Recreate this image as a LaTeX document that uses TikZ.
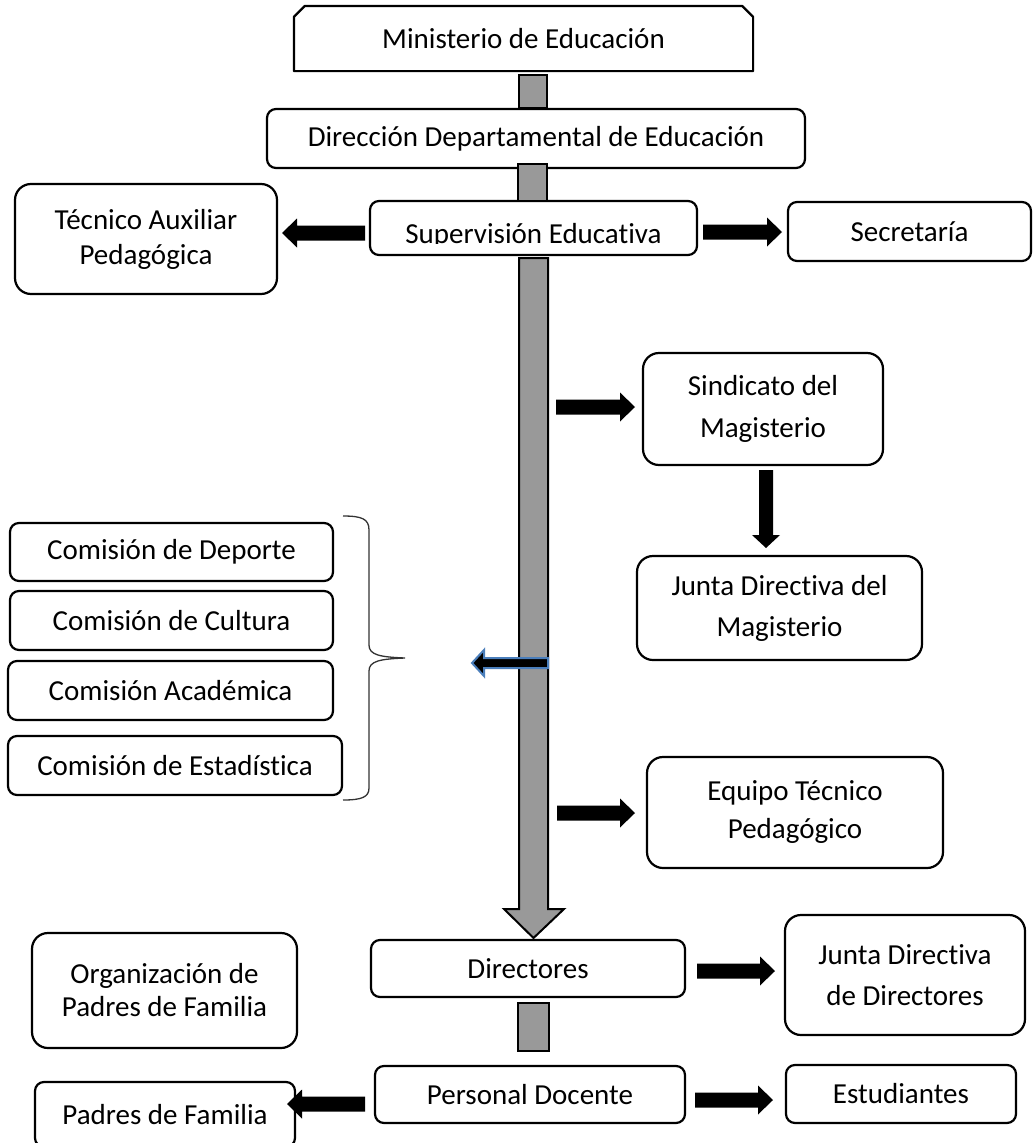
\documentclass[tikz,border=0pt]{standalone}
\usepackage{fontspec}
\setmainfont{Carlito}[Ligatures=NoCommon]
\usetikzlibrary{calc}
\definecolor{arrowblue}{RGB}{74,126,187}
\tikzset{
  box/.style={draw=black, line width=2.2pt, rounded corners=9pt, align=center, inner sep=0pt,
              font=\fontsize{29}{40}\selectfont, text=black},
  bigbox/.style={box, rounded corners=16pt},
  barstyle/.style={fill=black!40, draw=black, line width=2pt},
  bracestyle/.style={draw=black!80, line width=1.3pt},
}
\newcommand\rarr[2]{\fill[black] let \p1=(#1),\p2=(#2) in
  (\x1,\y1+7.5pt) -- (\x2-15pt,\y1+7.5pt) -- (\x2-15pt,\y1+14.5pt) -- (\x2,\y1)
  -- (\x2-15pt,\y1-14.5pt) -- (\x2-15pt,\y1-7.5pt) -- (\x1,\y1-7.5pt) -- cycle;}
\newcommand\larr[2]{\fill[black] let \p1=(#1),\p2=(#2) in
  (\x1,\y1+7.5pt) -- (\x2+15pt,\y1+7.5pt) -- (\x2+15pt,\y1+14.5pt) -- (\x2,\y1)
  -- (\x2+15pt,\y1-14.5pt) -- (\x2+15pt,\y1-7.5pt) -- (\x1,\y1-7.5pt) -- cycle;}
\newcommand\darr[2]{\fill[black] let \p1=(#1),\p2=(#2) in
  (\x1-7pt,\y1) -- (\x1-7pt,\y2+13pt) -- (\x1-14pt,\y2+13pt) -- (\x1,\y2)
  -- (\x1+14pt,\y2+13pt) -- (\x1+7pt,\y2+13pt) -- (\x1+7pt,\y1) -- cycle;}
\begin{document}
\begin{tikzpicture}[x=1pt,y=-1pt]
\useasboundingbox (0,0) rectangle (1034,1143);
\fill[white] (0,0) rectangle (1034,1143);

% ---- boxes ----
\node[box, draw=none, minimum width=457pt, minimum height=63pt] (min) at (523.5,38.5) {Ministerio de Educación};
\draw[line width=2.2pt, line join=round] (min.south west) -- ($(min.north west)+(0,11)$) -- ($(min.north west)+(11,0)$)
  -- ($(min.north east)+(-11,0)$) -- ($(min.north east)+(0,11)$) -- (min.south east) -- cycle;
\node[box, minimum width=538pt, minimum height=59pt] (dir) at (536,138.5) {Dirección Departamental de Educación};
\node[box, minimum width=327pt, minimum height=54pt] (sup) at (533.5,228) {};
\begin{scope}
  \clip (372,203) rectangle (695,243);
  \node[font=\fontsize{29}{40}\selectfont, inner sep=0pt, anchor=base] (suptext) at (533.5,243) {Supervisión Educativa};
\end{scope}
\node[bigbox, minimum width=262pt, minimum height=110pt, font=\fontsize{29}{35}\selectfont] (tec) at (146,239) {Técnico Auxiliar\\Pedagógica};
\node[box, minimum width=243pt, minimum height=59pt] (sec) at (909.5,231.5) {Secretaría};
\node[bigbox, minimum width=240pt, minimum height=112pt, font=\fontsize{29}{42}\selectfont] (sin) at (763,409) {Sindicato del\\Magisterio};
\node[bigbox, minimum width=285pt, minimum height=104pt, font=\fontsize{29}{41}\selectfont] (jdm) at (779.5,608) {Junta Directiva del\\Magisterio};
\node[bigbox, minimum width=296pt, minimum height=111pt, font=\fontsize{29}{38}\selectfont] (equ) at (795,812.5) {Equipo Técnico\\Pedagógico};
\node[box, minimum width=314pt, minimum height=57pt] (dirs) at (528,968.5) {Directores};
\node[bigbox, minimum width=240pt, minimum height=120pt, font=\fontsize{29}{41}\selectfont] (jdd) at (905,975) {Junta Directiva\\de Directores};
\node[bigbox, minimum width=265pt, minimum height=115pt, font=\fontsize{29}{33}\selectfont] (org) at (164.5,990.5) {Organización de\\Padres de Familia};
\node[box, minimum width=310pt, minimum height=57pt] (pd) at (530,1094.5) {Personal Docente};
\node[box, minimum width=260pt, minimum height=65pt] (pad) at (165,1114.5) {Padres de Familia};
\node[box, minimum width=230pt, minimum height=58pt] (est) at (901,1094) {Estudiantes};

\node[box, minimum width=323pt, minimum height=58pt] (c1) at (171.5,552) {Comisión de Deporte};
\node[box, minimum width=323pt, minimum height=59pt] (c2) at (171.5,620.5) {Comisión de Cultura};
\node[box, minimum width=325pt, minimum height=59pt] (c3) at (170.5,690.5) {Comisión Académica};
\node[box, minimum width=334pt, minimum height=59pt] (c4) at (175,765.5) {Comisión de Estadística};

% ---- brace ----
\draw[bracestyle] (343,516) .. controls (362,516) and (369,519) .. (369,530) -- (369,645)
  .. controls (369,655) and (380,657) .. (405,658)
  .. controls (380,659) and (369,661) .. (369,671) -- (369,788)
  .. controls (369,797) and (362,800) .. (343,800);

% ---- gray connectors ----
\draw[barstyle] (519,75) rectangle (547,108);
\draw[barstyle] (518,164) rectangle (547,201);
\draw[barstyle] (518,1003) rectangle (549,1051);
\coordinate (bigtop) at (533.5,258);
\coordinate (bigtip) at (533.5,938);
\draw[barstyle, line join=miter] let \p1=(bigtop),\p2=(bigtip) in
  (\x1-14.5pt,\y1) -- (\x1-14.5pt,\y2+29pt) -- (\x1-29.5pt,\y2+29pt) -- (\x2,\y2)
  -- (\x1+30.5pt,\y2+29pt) -- (\x1+14.5pt,\y2+29pt) -- (\x1+14.5pt,\y1) -- cycle;

% ---- black arrows ----
\coordinate (a1s) at (365,233);  \coordinate (a1e) at (282,233);  \larr{a1s}{a1e}
\coordinate (a2s) at (703,232);  \coordinate (a2e) at (782,232);  \rarr{a2s}{a2e}
\coordinate (a3s) at (556,407);  \coordinate (a3e) at (635,407);  \rarr{a3s}{a3e}
\coordinate (a4s) at (766,470);  \coordinate (a4e) at (766,548);  \darr{a4s}{a4e}
\coordinate (a5s) at (557,813);  \coordinate (a5e) at (635,813);  \rarr{a5s}{a5e}
\coordinate (a6s) at (697,971);  \coordinate (a6e) at (775,971);  \rarr{a6s}{a6e}
\coordinate (a7s) at (695,1100); \coordinate (a7e) at (773,1100); \rarr{a7s}{a7e}
\coordinate (a8s) at (365,1104); \coordinate (a8e) at (287,1104); \larr{a8s}{a8e}

% ---- blue-outlined arrow ----
\coordinate (b1s) at (548,663); \coordinate (b1e) at (472,663);
\filldraw[fill=black, draw=arrowblue, line width=2pt, line join=miter] let \p1=(b1s),\p2=(b1e) in
  (\x1,\y1+5pt) -- (\x2+12pt,\y1+5pt) -- (\x2+12pt,\y1+13pt) -- (\x2,\y1)
  -- (\x2+12pt,\y1-13pt) -- (\x2+12pt,\y1-5pt) -- (\x1,\y1-5pt) -- cycle;
\end{tikzpicture}
\end{document}
